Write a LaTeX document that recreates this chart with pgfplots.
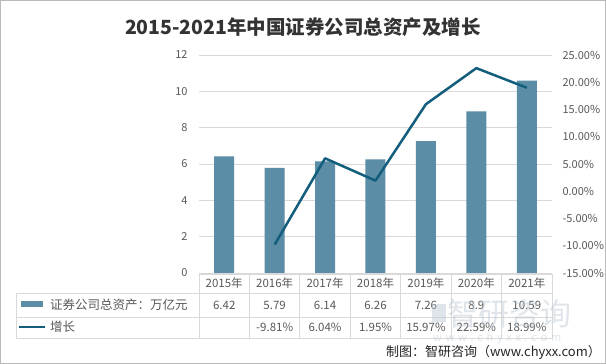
\documentclass[border=0pt]{standalone}
\usepackage{pgfplots}
\pgfplotsset{compat=1.18}
\usepackage{fontspec}
\setmainfont{Noto Sans CJK SC}
\definecolor{barc}{HTML}{5B8DA6}
\definecolor{linec}{HTML}{135E7C}
\definecolor{txt}{HTML}{595959}
\definecolor{gridc}{HTML}{D9D9D9}
\definecolor{wm}{HTML}{B9C7D3}
\begin{document}
\begin{tikzpicture}[x=1pt,y=1pt]
\useasboundingbox (0,0) rectangle (606,364);
\fill[white] (0,0) rectangle (606,364);
\draw[gray!55, line width=1pt] (0.5,0.5) rectangle (605.5,363.5);
\node[font=\fontsize{19.5}{20}\selectfont\bfseries, text=black!80] at (303,337) {2015-2021年中国证券公司总资产及增长};
\begin{axis}[at={(199pt,91pt)}, anchor=south west, scale only axis,
  width=353pt, height=218pt, xmin=-0.5, xmax=6.5, ymin=0, ymax=12,
  ytick={0,2,...,12}, xtick=\empty, axis line style={draw=none},
  ymajorgrids, grid style={draw=gridc, line width=0.8pt},
  major tick length=0pt,
  tick label style={font=\fontsize{11}{11}\selectfont, text=txt},
  yticklabel style={xshift=-8pt},
  /pgf/number format/assume math mode=true,
  ybar, bar width=20pt]
\addplot[fill=barc, draw=none] coordinates {(0,6.42) (1,5.79) (2,6.14) (3,6.26) (4,7.26) (5,8.9) (6,10.59)};
\end{axis}
\begin{axis}[at={(199pt,91pt)}, anchor=south west, scale only axis,
  width=353pt, height=218pt, xmin=-0.5, xmax=6.5, ymin=-15, ymax=25,
  axis x line=none, axis y line*=right, axis line style={draw=none},
  ytick={-15,-10,...,25}, major tick length=0pt,
  tick label style={font=\fontsize{11}{11}\selectfont, text=txt},
  yticklabel={\pgfmathprintnumber[fixed,fixed zerofill,precision=2]{\tick}\%},
  yticklabel style={anchor=west, xshift=7pt},
  /pgf/number format/assume math mode=true]
\addplot[linec, line width=2.5pt, line join=round] coordinates {(1,-9.81) (2,6.04) (3,1.95) (4,15.97) (5,22.59) (6,18.99)};
\end{axis}
% table grid
\draw[gridc, line width=0.8pt] (199,90) -- (552,90);
\foreach \yy in {71,47,26} \draw[gridc, line width=0.8pt] (16,\yy) -- (552,\yy);
\draw[gridc, line width=0.8pt] (16,71) -- (16,26);
\foreach \k in {0,...,7} \draw[gridc, line width=0.8pt] ({199+50.43*\k},90) -- ({199+50.43*\k},26);
% header
\foreach \lab [count=\i from 0] in {2015年,2016年,2017年,2018年,2019年,2020年,2021年}
  \node[font=\fontsize{11.5}{12}\selectfont, text=txt] at ({199+50.43*(\i+0.5)},80.5) {\lab};
\foreach \lab [count=\i from 0] in {6.42,5.79,6.14,6.26,7.26,8.9,10.59}
  \node[font=\fontsize{11.5}{12}\selectfont, text=txt] at ({199+50.43*(\i+0.5)},59) {\lab};
\foreach \lab [count=\i from 1] in {-9.81\%,6.04\%,1.95\%,15.97\%,22.59\%,18.99\%}
  \node[font=\fontsize{11.5}{12}\selectfont, text=txt] at ({199+50.43*(\i+0.5)},36.5) {\lab};
% legend keys
\fill[barc] (21,57) rectangle (43,63);
\draw[linec, line width=2.5pt] (19,37) -- (45,37);
\node[anchor=west, inner sep=0pt, font=\fontsize{12.5}{13}\selectfont, text=txt] at (50,59.5) {证券公司总资产：万亿元};
\node[anchor=west, inner sep=0pt, font=\fontsize{12.5}{13}\selectfont, text=txt] at (50,37) {增长};
% watermark
\begin{scope}[opacity=0.45]
\fill[wm] (432,42) rectangle (446,60);
\node[anchor=west, inner sep=0pt, font=\fontsize{31}{31}\selectfont, text=wm] at (447,50) {智研咨询};
\node[anchor=west, inner sep=0pt, font=\fontsize{11}{11}\selectfont, text=wm] at (433,26) {w\,\,w\,\,w\,\,.\,\,c\,\,h\,\,y\,\,x\,\,x\,\,.\,\,c\,\,o\,\,m};
\end{scope}
% footer
\node[anchor=east, inner sep=0pt, font=\fontsize{13}{13}\selectfont, text=black!85] at (601,12) {制图：智研咨询（www.chyxx.com）};
\end{tikzpicture}
\end{document}
